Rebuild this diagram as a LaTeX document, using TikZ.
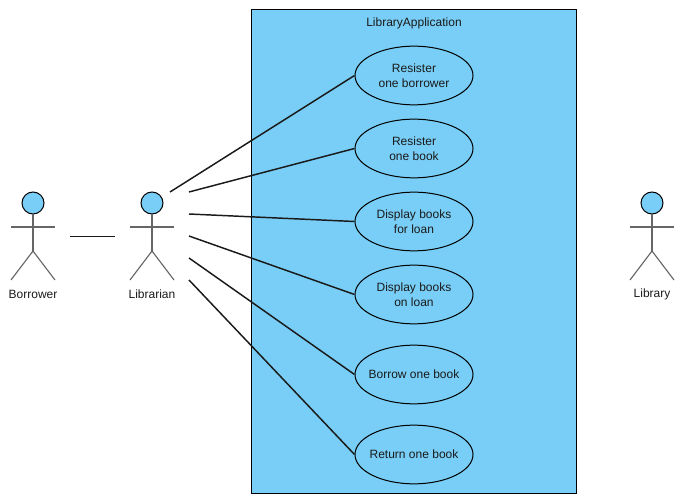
\documentclass[tikz,border=0pt]{standalone}
\usepackage{fontspec}
\setmainfont{Liberation Sans}
\usepackage{xcolor}
\usetikzlibrary{shapes.geometric}
\definecolor{cfill}{HTML}{78CEF6}
\definecolor{cink}{HTML}{1A1A1A}
\definecolor{cgrey}{HTML}{666666}
\tikzset{
  wire/.style={draw=cink,line width=1.1pt},
  usecase/.style={ellipse,draw=black,fill=cfill,line width=0.75pt,minimum width=88.5pt,minimum height=44pt,inner sep=0pt,align=center,font=\fontsize{9}{11.25}\selectfont,text=cink},
  head/.style={circle,draw=black,fill=cfill,line width=0.75pt,minimum size=16.5pt,inner sep=0pt},
  limb/.style={draw=cgrey,line width=0.85pt},
  actorlab/.style={font=\fontsize{9}{11.25}\selectfont,text=cink},
}
% one stick figure: name, x of its axis, label
\newcommand{\stickman}[3]{%
  \node[head] (#1head) at (#2,203) {};
  \draw[limb] (#1head.south) -- (#2,251);
  \draw[limb] (#2,251) -- (#2-22,280);
  \draw[limb] (#2,251) -- (#2+22,280);
  \draw[limb] (#2-22,227) -- (#2+22,227);
  \node[actorlab] (#1lab) at (#2,294) {#3};
}

\begin{document}
\begin{tikzpicture}[x=0.75pt,y=-0.75pt]
  \useasboundingbox (0,0) rectangle (689,502);

  % system boundary
  \node[draw=black,fill=cfill,line width=0.75pt,minimum width=244pt,minimum height=363pt,inner sep=0pt] (app) at (414,251.8) {};
  \node[actorlab] (apptitle) at (414,23) {LibraryApplication};

  % use cases
  \node[usecase] (regborrower) at (414,75.5)  {Resister\\one borrower};
  \node[usecase] (regbook)     at (414,148.5) {Resister\\one book};
  \node[usecase] (forloan)     at (414,221.5) {Display books\\for loan};
  \node[usecase] (onloan)      at (414,294.5) {Display books\\on loan};
  \node[usecase] (borrow)      at (414,374.5) {\makebox[0pt]{Borrow one book}};
  \node[usecase] (return)      at (414,454.5) {\makebox[0pt]{Return one book}};

  % actors
  \stickman{borrower}{33}{Borrower}
  \stickman{librarian}{152}{Librarian}
  \stickman{library}{652}{Library}

  % free ends next to the actors
  \coordinate (bwire) at (70,236.5);
  \coordinate (lwire) at (115,236.5);
  \coordinate (l1) at (170,192);
  \coordinate (l2) at (189,192);
  \coordinate (l3) at (189,214);
  \coordinate (l4) at (189,236);
  \coordinate (l5) at (189,258);
  \coordinate (l6) at (189,280);

  \draw[wire,line width=0.75pt] (bwire) -- (lwire);
  \draw[wire] (l1) -- (regborrower.west);
  \draw[wire] (l2) -- (regbook.west);
  \draw[wire] (l3) -- (forloan.west);
  \draw[wire] (l4) -- (onloan.west);
  \draw[wire] (l5) -- (borrow.west);
  \draw[wire] (l6) -- (return.west);
\end{tikzpicture}
\end{document}
